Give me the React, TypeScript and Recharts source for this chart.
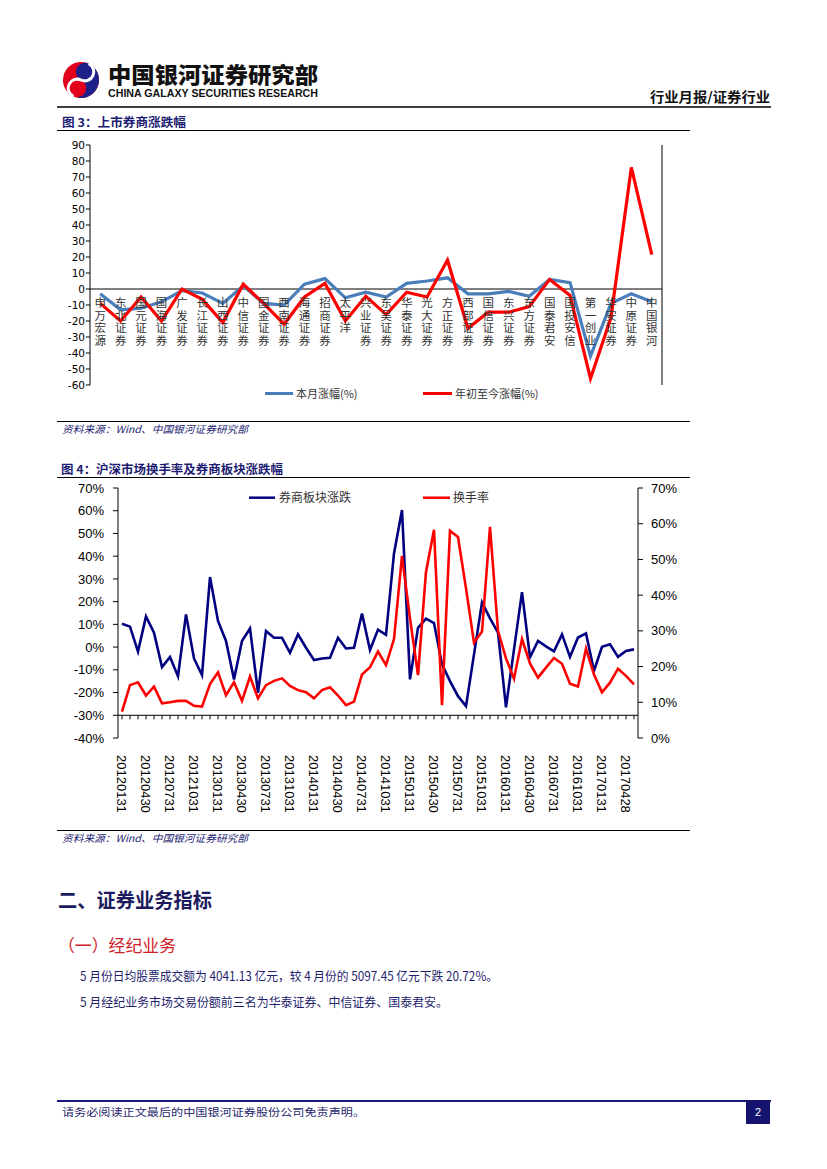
import React from 'react';
import { LineChart, Line, XAxis, YAxis, ReferenceLine, ReferenceDot } from 'recharts';

// ---------- Figure 3 data ----------
const brokers = [
  '申万宏源', '东北证券', '国元证券', '国海证券', '广发证券', '长江证券', '山西证券',
  '中信证券', '国金证券', '西南证券', '海通证券', '招商证券', '太平洋', '兴业证券',
  '东吴证券', '华泰证券', '光大证券', '方正证券', '西部证券', '国信证券', '东兴证券',
  '东方证券', '国泰君安', '国投安信', '第一创业', '华安证券', '中原证券', '中国银河',
];
const monthChange = [
  -3, -13, -12, -8, -1, -2.5, -9, 2, -9, -10, 3, 6.5, -5.5, -2,
  -5, 3.5, 5, 7, -3, -3, -1.5, -4.5, 6, 4, -42, -9, -3, -8,
];
const ytdChange = [
  -9, -20, -5, -20, 0, -6.5, -21, 3, -9, -22, -5, 3.5, -20, -4.5,
  -16, -2, -5, 18, -24.5, -14.5, -14.5, -11, 6, -4, -56, -18, 76, 21.5,
];
const fig3Ticks = [-60, -50, -40, -30, -20, -10, 0, 10, 20, 30, 40, 50, 60, 70, 80, 90];

// ---------- Figure 4 data ----------
const months = [
  '20120131', '20120229', '20120331', '20120430', '20120531', '20120630', '20120731', '20120831', '20120930', '20121031', '20121130', '20121231',
  '20130131', '20130228', '20130331', '20130430', '20130531', '20130630', '20130731', '20130831', '20130930', '20131031', '20131130', '20131231',
  '20140131', '20140228', '20140331', '20140430', '20140531', '20140630', '20140731', '20140831', '20140930', '20141031', '20141130', '20141231',
  '20150131', '20150228', '20150331', '20150430', '20150531', '20150630', '20150731', '20150831', '20150930', '20151031', '20151130', '20151231',
  '20160131', '20160229', '20160331', '20160430', '20160531', '20160630', '20160731', '20160831', '20160930', '20161031', '20161130', '20161231',
  '20170131', '20170228', '20170331', '20170428', '20170531',
];
const sectorChange = [
  10.3, 9.0, -2.0, 13.5, 6.3, -8.8, -4.4, -12.8, 14.4, -5.0, -12.3, 30.8,
  11.5, 2.7, -14.2, 2.7, 8.2, -20.1, 7.1, 4.1, 4.1, -2.5, 5.6, -0.3,
  -5.7, -5.0, -4.7, 4.1, -0.6, -0.3, 14.8, -1.3, 7.7, 5.4, 41.2, 60.3,
  -14.2, 8.5, 12.5, 10.6, -7.6, -15.0, -21.6, -26.0, -3.2, 19.6, 12.6, 6.4,
  -26.5, -1.0, 24.2, -4.5, 2.7, 0.3, -1.9, 5.6, -4.3, 4.2, 6.0, -10.4,
  0.1, 1.2, -4.3, -1.7, -1.0,
];
const turnover = [
  7.4, 14.8, 15.6, 11.9, 14.4, 9.7, 10.0, 10.4, 10.4, 9.0, 8.8, 15.1,
  18.4, 12.0, 15.6, 10.4, 17.2, 11.1, 14.8, 16.0, 16.7, 14.6, 13.4, 12.8,
  11.1, 13.4, 14.2, 11.9, 9.2, 10.2, 17.8, 19.8, 24.2, 20.4, 27.7, 51.0,
  33.5, 17.6, 46.5, 58.3, 9.2, 58.0, 56.3, 41.9, 26.7, 29.8, 59.1, 30.0,
  22.3, 16.6, 27.7, 20.9, 16.9, 19.7, 22.4, 20.8, 15.2, 14.4, 25.0, 17.8,
  12.8, 15.5, 19.4, 17.4, 15.0,
];
const fig4LeftTicks = [-40, -30, -20, -10, 0, 10, 20, 30, 40, 50, 60, 70];
const fig4RightTicks = [0, 10, 20, 30, 40, 50, 60, 70];

const data3 = brokers.map((name, i) => ({ name, month: monthChange[i], ytd: ytdChange[i] }));
const data4 = months.map((date, i) => ({ date, sector: sectorChange[i], turnover: turnover[i] }));

const CJK = '"Noto Sans CJK SC", "Noto Sans", sans-serif';
const NAVY = '#1c1c72';

const BrokerLabel = ({ cx, cy, text }: { cx: number; cy: number; text: string }) => (
  <text
    x={cx}
    y={cy + 8}
    fontSize={11.5}
    fill="#333"
    fontFamily={CJK}
    letterSpacing={1}
    style={{ writingMode: 'vertical-rl' as any }}
  >
    {text}
  </text>
);

const DateTick = (props: any) => {
  const { x, y, payload } = props;
  return (
    <text
      x={x}
      y={y + 17}
      transform={`rotate(90, ${x}, ${y + 17})`}
      textAnchor="start"
      dy="0.36em"
      fontSize={13}
      fill="#000"
      fontFamily='"Liberation Sans", Arial, sans-serif'
    >
      {payload.value}
    </text>
  );
};

const Logo = () => (
  <g>
    <circle cx={81} cy={80} r={18} fill="#e2001a" />
    <path d="M81,62 A18,18 0 0,1 81,98 A9,9 0 0,0 81,80 A9,9 0 0,1 81,62 Z" fill="#1d2088" transform="rotate(25 81 80)" />
    <path d="M81,62 A9,9 0 0,1 81,80 A9,9 0 0,0 81,98" fill="none" stroke="#fff" strokeWidth={3} transform="rotate(25 81 80)" />
  </g>
);

const Page = () => (
  <svg width={827} height={1169} style={{ position: 'absolute', left: 0, top: 0 }}>
    <Logo />
    <text x={108} y={83} fontSize={22} fontWeight={900} fontFamily={CJK} fill="#111" textLength={210} lengthAdjust="spacingAndGlyphs">中国银河证券研究部</text>
    <text x={108} y={97} fontSize={10} fontWeight={700} fontFamily='"Liberation Sans", Arial, sans-serif' fill="#111" textLength={210} lengthAdjust="spacingAndGlyphs">CHINA GALAXY SECURITIES RESEARCH</text>
    <text x={650} y={102} fontSize={13.5} fontWeight={700} fontFamily={CJK} fill="#111" textLength={120} lengthAdjust="spacingAndGlyphs">行业月报/证券行业</text>
    <line x1={57} x2={771} y1={107} y2={107} stroke="#000" strokeWidth={1.5} />

    {/* Figure 3 */}
    <text x={62} y={127} fontSize={12} fontWeight={700} fontFamily={CJK} fill={NAVY} textLength={124} lengthAdjust="spacingAndGlyphs">图 3：上市券商涨跌幅</text>
    <line x1={57} x2={690} y1={130.5} y2={130.5} stroke="#000" strokeWidth={1} />
    <line x1={265} x2={293} y1={393.5} y2={393.5} stroke="#4a7ebb" strokeWidth={3} />
    <text x={296} y={397.5} fontSize={11} fontFamily={CJK} fill="#333">本月涨幅(%)</text>
    <line x1={423} x2={452} y1={393.5} y2={393.5} stroke="#ff0000" strokeWidth={3} />
    <text x={455} y={397.5} fontSize={11} fontFamily={CJK} fill="#333">年初至今涨幅(%)</text>
    <line x1={57} x2={690} y1={421.5} y2={421.5} stroke="#000" strokeWidth={1} />
    <text x={62} y={433} fontSize={10} fontStyle="italic" fontFamily={CJK} fill={NAVY} textLength={186} lengthAdjust="spacingAndGlyphs">资料来源：Wind、中国银河证券研究部</text>

    {/* Figure 4 */}
    <text x={61} y={474} fontSize={12} fontWeight={700} fontFamily={CJK} fill={NAVY} textLength={222} lengthAdjust="spacingAndGlyphs">图 4：沪深市场换手率及券商板块涨跌幅</text>
    <line x1={57} x2={690} y1={477.5} y2={477.5} stroke="#000" strokeWidth={1} />
    <line x1={249} x2={275} y1={497.7} y2={497.7} stroke="#000080" strokeWidth={2.5} />
    <text x={279} y={502} fontSize={12} fontFamily={CJK} fill="#333">券商板块涨跌</text>
    <line x1={423} x2={450} y1={497.7} y2={497.7} stroke="#ff0000" strokeWidth={2.5} />
    <text x={453} y={502} fontSize={12} fontFamily={CJK} fill="#333">换手率</text>
    <line x1={57} x2={690} y1={830.5} y2={830.5} stroke="#000" strokeWidth={1} />
    <text x={62} y={842} fontSize={10} fontStyle="italic" fontFamily={CJK} fill={NAVY} textLength={186} lengthAdjust="spacingAndGlyphs">资料来源：Wind、中国银河证券研究部</text>

    {/* Body text */}
    <text x={58} y={908} fontSize={20} fontWeight={700} fontFamily={CJK} fill="#1b1b5e" textLength={154} lengthAdjust="spacingAndGlyphs">二、证券业务指标</text>
    <text x={58} y={952} fontSize={17} fontFamily={CJK} fill="#d0202a" textLength={118} lengthAdjust="spacingAndGlyphs">（一）经纪业务</text>
    <text x={80} y={981} fontSize={12.5} fontFamily={CJK} fill="#1f1f6e" textLength={418} lengthAdjust="spacingAndGlyphs">5 月份日均股票成交额为 4041.13 亿元，较 4 月份的 5097.45 亿元下跌 20.72%。</text>
    <text x={80} y={1007} fontSize={12.5} fontFamily={CJK} fill="#1f1f6e" textLength={368} lengthAdjust="spacingAndGlyphs">5 月经纪业务市场交易份额前三名为华泰证券、中信证券、国泰君安。</text>

    {/* Footer */}
    <line x1={57} x2={771} y1={1101} y2={1101} stroke="#1a1a7a" strokeWidth={2} />
    <text x={62} y={1116} fontSize={10.5} fontFamily={CJK} fill="#1f1f6e" textLength={303} lengthAdjust="spacingAndGlyphs">请务必阅读正文最后的中国银河证券股份公司免责声明。</text>
    <rect x={746} y={1100} width={24} height={24} fill="#14146e" />
    <text x={758} y={1116} fontSize={11} textAnchor="middle" fontFamily='"Liberation Sans", Arial, sans-serif' fill="#fff">2</text>
  </svg>
);

const Figure3 = () => (
  <div style={{ position: 'absolute', left: 57, top: 131 }}>
    <LineChart width={633} height={290} data={data3} margin={{ top: 14, right: 0, bottom: 36, left: 0 }}>
      <XAxis dataKey="name" type="category" scale="band" hide />
      <YAxis
        yAxisId="left"
        width={33}
        domain={[-60, 90]}
        ticks={fig3Ticks}
        interval={0}
        tickSize={4}
        tickMargin={1}
        axisLine={{ stroke: '#000' }}
        tickLine={{ stroke: '#000' }}
        tick={{ fontSize: 10.5, fill: '#000', fontFamily: '"DejaVu Sans", sans-serif' }}
      />
      <YAxis
        yAxisId="right"
        orientation="right"
        width={28}
        domain={[-60, 90]}
        ticks={fig3Ticks}
        interval={0}
        tickSize={4}
        tickMargin={5}
        axisLine={{ stroke: '#000' }}
        tickLine={{ stroke: '#000' }}
        tick={{ fontSize: 10.5, fill: '#000', fontFamily: '"DejaVu Sans", sans-serif' }}
      />
      <ReferenceLine yAxisId="left" y={0} stroke="#000" strokeWidth={1} />
      {brokers.map((b) => (
        <ReferenceDot
          key={b}
          yAxisId="left"
          x={b}
          y={0}
          r={0}
          shape={(p: any) => <BrokerLabel cx={p.cx} cy={p.cy} text={b} />}
        />
      ))}
      <Line yAxisId="left" dataKey="month" stroke="#4a7ebb" strokeWidth={3.2} dot={false} isAnimationActive={false} />
      <Line yAxisId="left" dataKey="ytd" stroke="#ff0000" strokeWidth={3.2} dot={false} isAnimationActive={false} />
    </LineChart>
  </div>
);

const Figure4 = () => (
  <div style={{ position: 'absolute', left: 57, top: 478 }}>
    <LineChart width={633} height={352} data={data4} margin={{ top: 10, right: 0, bottom: 0, left: 0 }}>
      <XAxis
        dataKey="date"
        type="category"
        scale="band"
        height={92}
        interval={2}
        axisLine={false}
        tickLine={false}
        tickSize={0}
        tickMargin={0}
        tick={<DateTick />}
      />
      <YAxis
        yAxisId="left"
        width={61}
        domain={[-40, 70]}
        ticks={fig4LeftTicks}
        interval={0}
        tickSize={5}
        tickMargin={9}
        tickFormatter={(v: number) => `${v}%`}
        axisLine={{ stroke: '#000' }}
        tickLine={{ stroke: '#000' }}
        tick={{ fontSize: 13, fill: '#000', fontFamily: '"Liberation Sans", Arial, sans-serif' }}
      />
      <YAxis
        yAxisId="right"
        orientation="right"
        width={52}
        domain={[0, 70]}
        ticks={fig4RightTicks}
        interval={0}
        tickSize={5}
        tickMargin={8}
        tickFormatter={(v: number) => `${v}%`}
        axisLine={{ stroke: '#000' }}
        tickLine={{ stroke: '#000' }}
        tick={{ fontSize: 13, fill: '#000', fontFamily: '"Liberation Sans", Arial, sans-serif' }}
      />
      <ReferenceLine yAxisId="left" y={-30} stroke="#000" strokeWidth={1} />
      {months.map((m) => (
        <ReferenceDot
          key={m}
          yAxisId="left"
          x={m}
          y={-30}
          r={0}
          shape={(p: any) => <line x1={p.cx} x2={p.cx} y1={p.cy} y2={p.cy + 4} stroke="#000" strokeWidth={1} />}
        />
      ))}
      <Line yAxisId="left" dataKey="sector" stroke="#000080" strokeWidth={2.6} dot={false} isAnimationActive={false} />
      <Line yAxisId="right" dataKey="turnover" stroke="#ff0000" strokeWidth={2.6} dot={false} isAnimationActive={false} />
    </LineChart>
  </div>
);

export default function App() {
  return (
    <div style={{ position: 'absolute', left: 0, top: 0, width: 827, height: 1169, background: '#fff' }}>
      <Page />
      <Figure3 />
      <Figure4 />
    </div>
  );
}
